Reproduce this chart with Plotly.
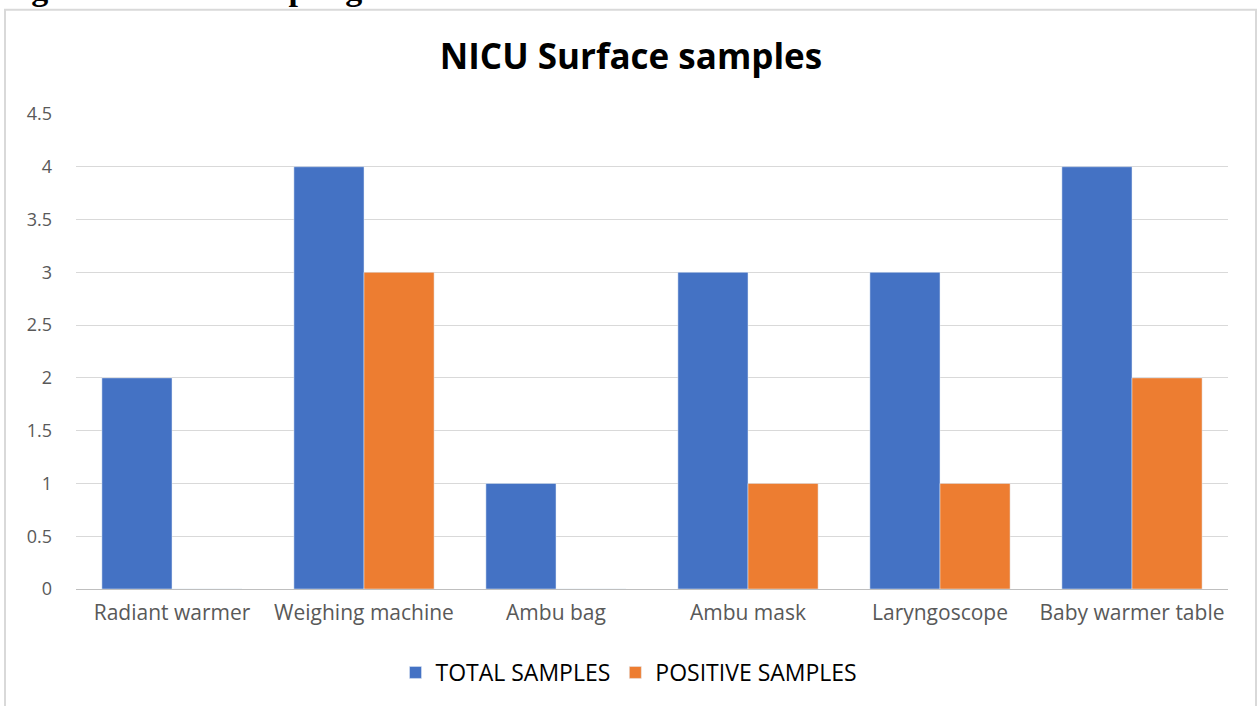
import plotly.graph_objects as go

categories = ["Radiant warmer", "Weighing machine", "Ambu bag", "Ambu mask", "Laryngoscope", "Baby warmer table"]
total_samples = [2, 4, 1, 3, 3, 4]
positive_samples = [0, 3, 0, 1, 1, 2]
y_ticks = [0, 0.5, 1, 1.5, 2, 2.5, 3, 3.5, 4, 4.5]
y_tick_text = ["0", "0.5", "1", "1.5", "2", "2.5", "3", "3.5", "4", "4.5"]

W, H = 1258, 706
# plot area in page pixels: x 76..1228, y 114..591
L, T = 76, 114
R = W - 1228
B = H - 592
pw, ph = W - L - R, H - T - B

def px(x):
    return (x - L) / pw

def py(y):
    return (H - B - y) / ph

fig = go.Figure()
fig.add_trace(go.Bar(x=categories, y=total_samples, name="TOTAL SAMPLES", marker_color="#4472C4"))
fig.add_trace(go.Bar(x=categories, y=positive_samples, name="POSITIVE SAMPLES", marker_color="#ED7D31"))

fig.update_layout(
    width=W, height=H,
    margin=dict(l=L, r=R, t=T, b=B),
    paper_bgcolor="white", plot_bgcolor="white",
    barmode="group", bargap=0.27, bargroupgap=0,
    font=dict(family="Open Sans", color="#595959"),
    title=dict(text="<b>NICU Surface samples</b>", x=631 / W, xanchor="center",
               y=1 - 57 / H, yanchor="middle",
               font=dict(family="Open Sans", size=35, color="black")),
    xaxis=dict(showgrid=False, showline=True, linecolor="#bfbfbf", linewidth=1,
               ticks="", ticklabelstandoff=5, tickfont=dict(size=21, color="#595959")),
    yaxis=dict(range=[0, 4.5], tickvals=y_ticks, ticktext=y_tick_text,
               showgrid=True, gridcolor="#d9d9d9", gridwidth=1, zeroline=False,
               showline=False, ticks="", ticklabelstandoff=23,
               tickfont=dict(size=18, color="#595959")),
    legend=dict(orientation="h", x=px(629), xanchor="center", y=py(676), yanchor="middle",
                font=dict(size=23, color="black"), itemwidth=30, traceorder="normal"),
    showlegend=True,
)

fig.add_shape(type="rect", xref="paper", yref="paper",
              x0=px(5), x1=px(1256), y0=py(712), y1=py(9),
              line=dict(color="#d9d9d9", width=2), fillcolor="rgba(0,0,0,0)", layer="below")

fig.add_annotation(text="<b>Figure 3: Swab sampling from NICU</b>", xref="paper", yref="paper",
                   x=px(-1), xanchor="left", y=py(8), yanchor="bottom", showarrow=False,
                   font=dict(family="Liberation Serif", size=34, color="black"))

fig.write_html("out.html", config={"displayModeBar": False},
               post_script="document.body.style.margin='0';")
